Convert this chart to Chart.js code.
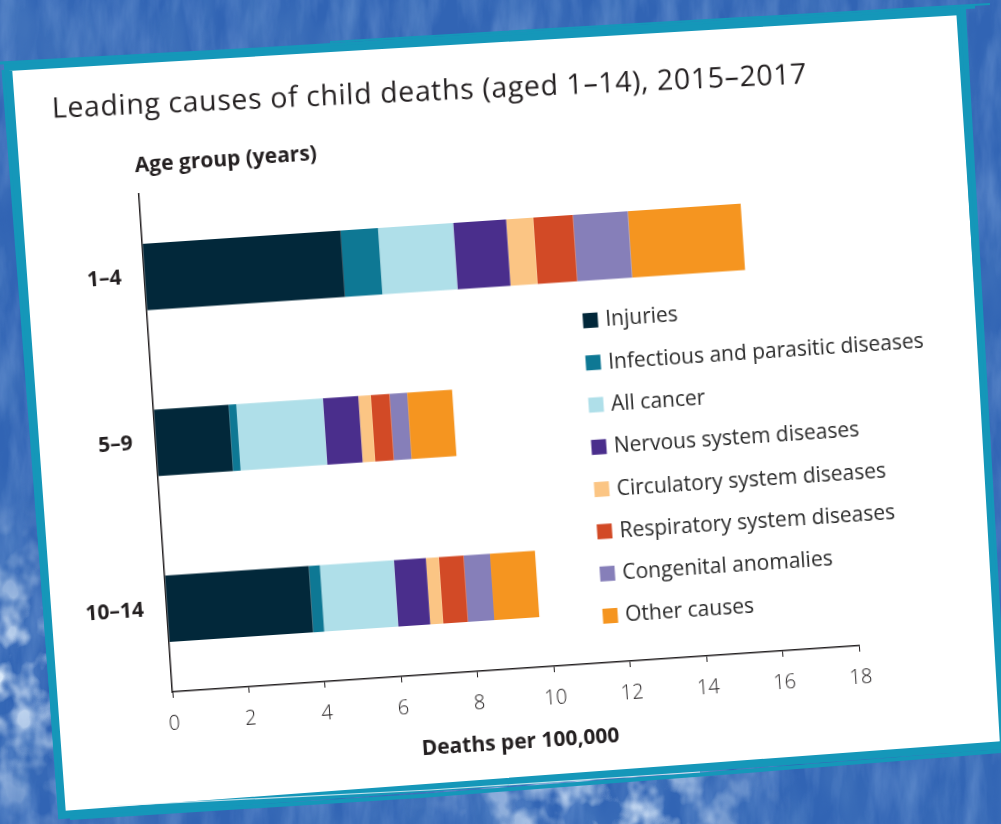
<!DOCTYPE html>
<html>
<head>
<meta charset="utf-8">
<title>Leading causes of child deaths (aged 1–14), 2015–2017</title>
<script src="https://cdn.jsdelivr.net/npm/chart.js@4.4.1/dist/chart.umd.min.js"></script>
<style>
  html, body { margin: 0; padding: 0; width: 1001px; height: 824px; overflow: hidden; background: #3164b4; }
  #backdrop { position: absolute; left: 0; top: 0; }
  #chartBox {
    position: absolute; left: 31.1px; top: 80.1px; width: 900px; height: 730px;
    transform-origin: 0 0; transform: rotate(-3.85deg);
  }
  #chartBox canvas { display: block; }
</style>
</head>
<body>
<svg id="backdrop" width="1001" height="824" viewBox="0 0 1001 824">
  <defs>
    <filter id="mottle" x="0" y="0" width="100%" height="100%">
      <feTurbulence type="fractalNoise" baseFrequency="0.05 0.012" numOctaves="4" seed="11"/>
      <feColorMatrix type="matrix" values="0 0 0 0 0.42  0 0 0 0 0.6  0 0 0 0 0.9  1.3 0 0 0 -0.5"/>
    </filter>
    <filter id="shade" x="0" y="0" width="100%" height="100%">
      <feTurbulence type="fractalNoise" baseFrequency="0.03 0.01" numOctaves="3" seed="5"/>
      <feColorMatrix type="matrix" values="0 0 0 0 0.1  0 0 0 0 0.25  0 0 0 0 0.56  1.2 0 0 0 -0.4"/>
    </filter>
    <filter id="splash" x="0" y="0" width="100%" height="100%">
      <feTurbulence type="fractalNoise" baseFrequency="0.035 0.03" numOctaves="3" seed="3"/>
      <feColorMatrix type="matrix" values="0 0 0 0 0.72  0 0 0 0 0.83  0 0 0 0 0.96  3.4 0 0 0 -1.4"/>
    </filter>
    <radialGradient id="gLeft" cx="0.0" cy="0.82" r="0.22">
      <stop offset="0" stop-color="#fff" stop-opacity="1"/>
      <stop offset="1" stop-color="#fff" stop-opacity="0"/>
    </radialGradient>
    <radialGradient id="gBottom" cx="0.6" cy="1.0" r="0.2">
      <stop offset="0" stop-color="#fff" stop-opacity="1"/>
      <stop offset="1" stop-color="#fff" stop-opacity="0"/>
    </radialGradient>
    <mask id="splashMask">
      <rect width="1001" height="824" fill="url(#gLeft)"/>
      <rect width="1001" height="824" fill="url(#gBottom)"/>
    </mask>
  </defs>
  <rect width="1001" height="824" fill="#3164b4"/>
  <rect width="1001" height="824" filter="url(#shade)" opacity="0.6"/>
  <rect width="1001" height="824" filter="url(#mottle)" opacity="0.4"/>
  <rect width="1001" height="824" filter="url(#splash)" mask="url(#splashMask)"/>

  <!-- paper card with a hand-drawn teal outline -->
  <polygon points="8,67 962,11 1004,745 62,815" fill="#ffffff" stroke="#1597b9" stroke-width="8" stroke-linejoin="miter"/>
  <polyline points="0,63 240,50 520,33 975,7" fill="none" stroke="#1597b9" stroke-width="3"/>
  <polyline points="330,42 620,25 990,4" fill="none" stroke="#1597b9" stroke-width="2"/>
  <polyline points="958,8 985,420 1001,700" fill="none" stroke="#1597b9" stroke-width="4"/>
  <polyline points="70,818 420,796 760,770 1001,751" fill="none" stroke="#1597b9" stroke-width="4"/>
  <polyline points="110,806 430,790 700,772" fill="none" stroke="#e8f3f8" stroke-width="1.2" opacity="0.8"/>
  <polyline points="3,70 30,420 60,812" fill="none" stroke="#1597b9" stroke-width="3"/>
</svg>

<div id="chartBox"><canvas id="chart" width="900" height="730"></canvas></div>

<script>
// Age groups (y categories)
const ageGroups = ['1–4', '5–9', '10–14'];

// Deaths per 100,000 by cause, one value per age group
const injuries    = [5.20, 1.97, 3.78];
const infectious  = [0.98, 0.20, 0.29];
const allCancer   = [1.97, 2.27, 1.94];
const nervous     = [1.39, 0.93, 0.84];
const circulatory = [0.71, 0.33, 0.34];
const respiratory = [1.04, 0.49, 0.65];
const congenital  = [1.44, 0.46, 0.69];
const otherCauses = [2.96, 1.18, 1.18];

// Value axis tick labels
const xTicks = [0, 2, 4, 6, 8, 10, 12, 14, 16, 18];

const causeLabels = [
  'Injuries',
  'Infectious and parasitic diseases',
  'All cancer',
  'Nervous system diseases',
  'Circulatory system diseases',
  'Respiratory system diseases',
  'Congenital anomalies',
  'Other causes'
];
const causeColors = ['#02283a', '#0e7894', '#afdfe9', '#4a2e8c', '#fbc584', '#d24a26', '#867fb9', '#f59520'];
const causeValues = [injuries, infectious, allCancer, nervous, circulatory, respiratory, congenital, otherCauses];

const INK = '#231f20';

// Title and the horizontal "Age group" caption
const headingPlugin = {
  id: 'heading',
  afterDraw(chart, args, opts) {
    const ctx = chart.ctx;
    ctx.save();
    ctx.fillStyle = INK;
    // main title, spread to its line length
    ctx.translate(opts.x, opts.y);
    ctx.rotate(opts.tilt);
    ctx.font = opts.font;
    ctx.textAlign = 'left';
    ctx.textBaseline = 'alphabetic';
    if ('letterSpacing' in ctx) {
      ctx.letterSpacing = '0px';
      const w = ctx.measureText(opts.text).width;
      const n = [...opts.text].length;
      ctx.letterSpacing = Math.max(0, (opts.width - w) / n) + 'px';
    }
    ctx.fillText(opts.text, 0, 0);
    ctx.restore();

    // y-axis caption above the axis
    const area = chart.chartArea;
    ctx.save();
    ctx.fillStyle = INK;
    ctx.font = opts.captionFont;
    ctx.textAlign = 'center';
    ctx.textBaseline = 'middle';
    ctx.fillText(opts.caption, area.left + opts.captionDx, area.top + opts.captionDy);
    ctx.restore();
  }
};

// Legend list drawn inside the plot
const sideLegend = {
  id: 'sideLegend',
  afterDraw(chart, args, opts) {
    const ctx = chart.ctx;
    const area = chart.chartArea;
    ctx.save();
    ctx.font = opts.font;
    ctx.textAlign = 'left';
    ctx.textBaseline = 'middle';
    chart.data.datasets.forEach((ds, i) => {
      const cx = area.left + opts.dx;
      const cy = area.top + opts.dy + i * opts.gap;
      ctx.fillStyle = ds.backgroundColor;
      ctx.fillRect(cx - opts.box / 2, cy - opts.box / 2, opts.box, opts.box);
      ctx.fillStyle = opts.color;
      ctx.fillText(ds.label, cx + opts.box / 2 + opts.pad, cy + 1);
    });
    ctx.restore();
  }
};

new Chart(document.getElementById('chart'), {
  type: 'bar',
  data: {
    labels: ageGroups,
    datasets: causeLabels.map((label, i) => ({
      label,
      data: causeValues[i],
      backgroundColor: causeColors[i],
      borderWidth: 0,
      categoryPercentage: 0.8,
      barPercentage: 0.5
    }))
  },
  options: {
    indexAxis: 'y',
    responsive: false,
    animation: false,
    devicePixelRatio: 1,
    layout: { padding: { top: 121, right: 112, left: 0, bottom: 0 } },
    scales: {
      x: {
        stacked: true,
        min: 0,
        max: 18,
        afterBuildTicks: scale => { scale.ticks = xTicks.map(v => ({ value: v })); },
        afterFit: scale => { scale.height = 110; },
        grid: { display: true, drawOnChartArea: false, drawTicks: true, tickLength: 6, color: INK, lineWidth: 1 },
        border: { display: true, color: INK, width: 1.5 },
        ticks: {
          color: INK,
          padding: 14,
          font: { family: "'Open Sans', 'Liberation Sans', sans-serif", size: 20, weight: '300' }
        },
        title: {
          display: true,
          text: 'Deaths per 100,000',
          color: INK,
          padding: { top: 0, bottom: 23 },
          font: { family: "'Open Sans', 'Liberation Sans', sans-serif", size: 21, weight: 'bold' }
        }
      },
      y: {
        stacked: true,
        afterFit: scale => { scale.width = 100; },
        grid: { display: false, drawTicks: false, tickLength: 0 },
        border: { display: true, color: INK, width: 1.5 },
        ticks: {
          color: INK,
          padding: 23,
          font: { family: "'Open Sans', 'Liberation Sans', sans-serif", size: 21, weight: 'bold' }
        }
      }
    },
    plugins: {
      legend: { display: false },
      tooltip: { enabled: false },
      title: { display: false },
      heading: {
        text: 'Leading causes of child deaths (aged 1–14), 2015–2017',
        font: "400 28.5px 'Open Sans', 'Liberation Sans', sans-serif",
        x: 18.7,
        y: 39.2,
        tilt: 0.0214,
        width: 756,
        caption: 'Age group (years)',
        captionFont: "bold 21px 'Open Sans', 'Liberation Sans', sans-serif",
        captionDx: 89,
        captionDy: -28
      },
      sideLegend: {
        font: "400 21px 'Open Sans', 'Liberation Sans', sans-serif",
        color: '#2a2a2a',
        dx: 442,
        dy: 156.4,
        gap: 42.3,
        box: 15,
        pad: 7.5
      }
    }
  },
  plugins: [headingPlugin, sideLegend]
});
</script>
</body>
</html>
